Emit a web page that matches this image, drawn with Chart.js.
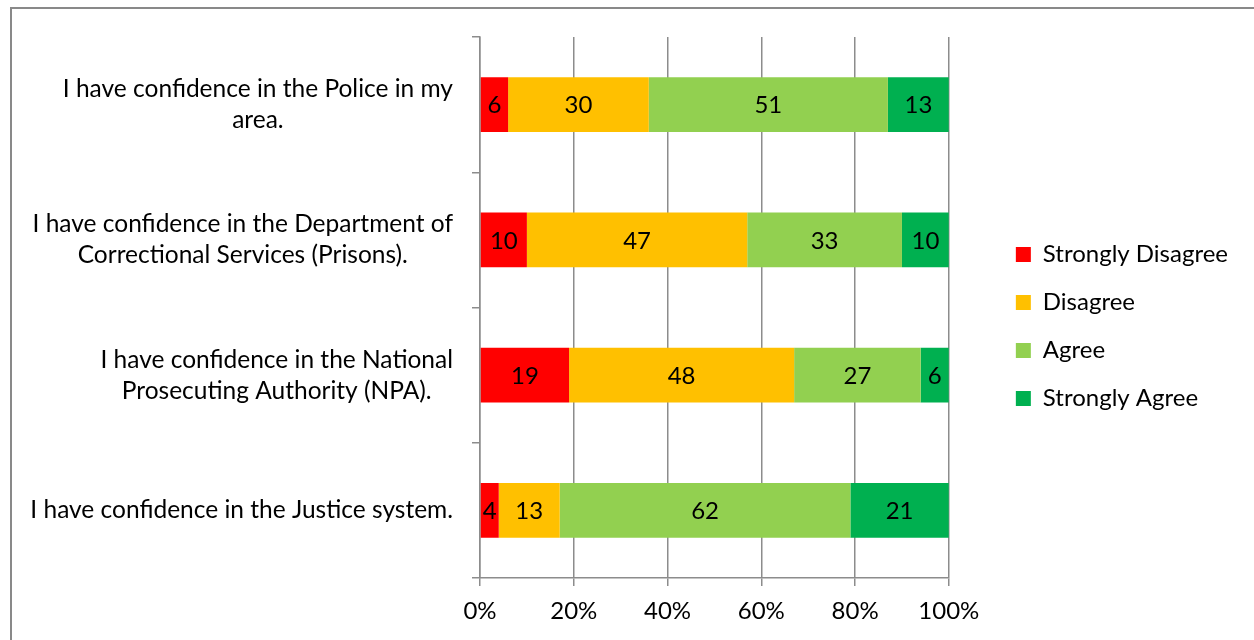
<!DOCTYPE html>
<html>
<head>
<meta charset="utf-8">
<title>Confidence in the justice system</title>
<script src="https://cdn.jsdelivr.net/npm/chart.js@4.4.1/dist/chart.umd.min.js"></script>
<style>
  html, body { margin: 0; padding: 0; background: #fff; }
  #wrap { position: relative; width: 1254px; height: 640px; overflow: hidden; }
  #frame { position: absolute; left: 10px; top: 7px; width: 1260px; height: 660px; border: 2px solid #898989; box-sizing: border-box; }
  #chart { position: absolute; left: 0; top: 0; }
</style>
</head>
<body>
<div id="wrap">
  <div id="frame"></div>
  <canvas id="chart" width="1254" height="640"></canvas>
</div>
<script>
const categories = [
  ["I have confidence in the Police in my", "area."],
  ["I have confidence in the Department of", "Correctional Services (Prisons)."],
  ["I have confidence in the National", "Prosecuting Authority (NPA)."],
  ["I have confidence in the Justice system."]
];
const seriesNames = ["Strongly Disagree", "Disagree", "Agree", "Strongly Agree"];
const stronglyDisagree = [6, 10, 19, 4];
const disagree = [30, 47, 48, 13];
const agree = [51, 33, 27, 62];
const stronglyAgree = [13, 10, 6, 21];
const xTicks = [0, 20, 40, 60, 80, 100];

const colors = ["#ff0000", "#ffc000", "#92d050", "#00b050"];
const FONT = "Lato, 'Open Sans', sans-serif";
const FONT_SIZE = 24;
const GRID = "#8c8c8c";

// wrapped category labels: lines centred inside their own block,
// block right-aligned against the axis
const categoryLabels = {
  id: "categoryLabels",
  afterDraw(chart) {
    const { ctx } = chart;
    const y = chart.scales.y;
    ctx.save();
    ctx.font = `24.5px ${FONT}`;
    ctx.fillStyle = "#000";
    ctx.textAlign = "center";
    ctx.textBaseline = "middle";
    const lineH = 31;
    const right = y.right - 27;
    categories.forEach((lines, i) => {
      const cy = y.getPixelForValue(i);
      const w = Math.max(...lines.map(l => ctx.measureText(l).width));
      const cx = right - w / 2;
      const top = cy - (lines.length - 1) * lineH / 2;
      lines.forEach((l, k) => ctx.fillText(l, cx, top + k * lineH));
    });
    ctx.restore();
  }
};

// value printed in the middle of every segment
const segmentValues = {
  id: "segmentValues",
  afterDatasetsDraw(chart) {
    const { ctx } = chart;
    ctx.save();
    ctx.font = `${FONT_SIZE}px ${FONT}`;
    ctx.fillStyle = "#000";
    ctx.textAlign = "center";
    ctx.textBaseline = "middle";
    chart.data.datasets.forEach((ds, di) => {
      chart.getDatasetMeta(di).data.forEach((bar, i) => {
        const p = bar.getCenterPoint();
        ctx.fillText(String(ds.data[i]), p.x, p.y + 1);
      });
    });
    ctx.restore();
  }
};

// leave a gap between the plot and the legend, and lift the legend a little
const legendOffset = {
  id: "legendOffset",
  afterLayout(chart) {
    const lg = chart.legend;
    lg.left += 43; lg.right += 43;
    lg.top -= 12; lg.bottom -= 12;
  }
};

const seriesData = [stronglyDisagree, disagree, agree, stronglyAgree];

new Chart(document.getElementById("chart"), {
  type: "bar",
  data: {
    labels: categories,
    datasets: seriesNames.map((name, i) => ({
      label: name,
      data: seriesData[i],
      backgroundColor: colors[i],
      borderWidth: 0,
      categoryPercentage: 1,
      barPercentage: 0.405
    }))
  },
  options: {
    indexAxis: "y",
    responsive: false,
    animation: false,
    layout: { padding: { top: 37, left: 20, right: 59, bottom: 0 } },
    scales: {
      x: {
        stacked: true,
        min: 0,
        max: 100,
        afterBuildTicks(scale) { scale.ticks = xTicks.map(v => ({ value: v })); },
        afterFit(scale) { scale.height = 62; },
        ticks: {
          color: "#000",
          font: { family: FONT, size: FONT_SIZE },
          padding: 11,
          callback: v => v + "%"
        },
        grid: { color: GRID, lineWidth: 1.5, tickLength: 8 },
        border: { color: GRID, width: 1.5 }
      },
      y: {
        stacked: true,
        afterFit(scale) { scale.width = 460; },
        ticks: { display: false },
        grid: { color: GRID, lineWidth: 1.5, tickLength: 8, offset: true, drawOnChartArea: false },
        border: { color: GRID, width: 1.5 }
      }
    },
    plugins: {
      legend: {
        position: "right",
        labels: {
          boxWidth: 15,
          boxHeight: 15,
          padding: 24,
          color: "#000",
          font: { family: FONT, size: FONT_SIZE }
        }
      },
      tooltip: { enabled: false }
    }
  },
  plugins: [categoryLabels, segmentValues, legendOffset]
});
</script>
</body>
</html>
